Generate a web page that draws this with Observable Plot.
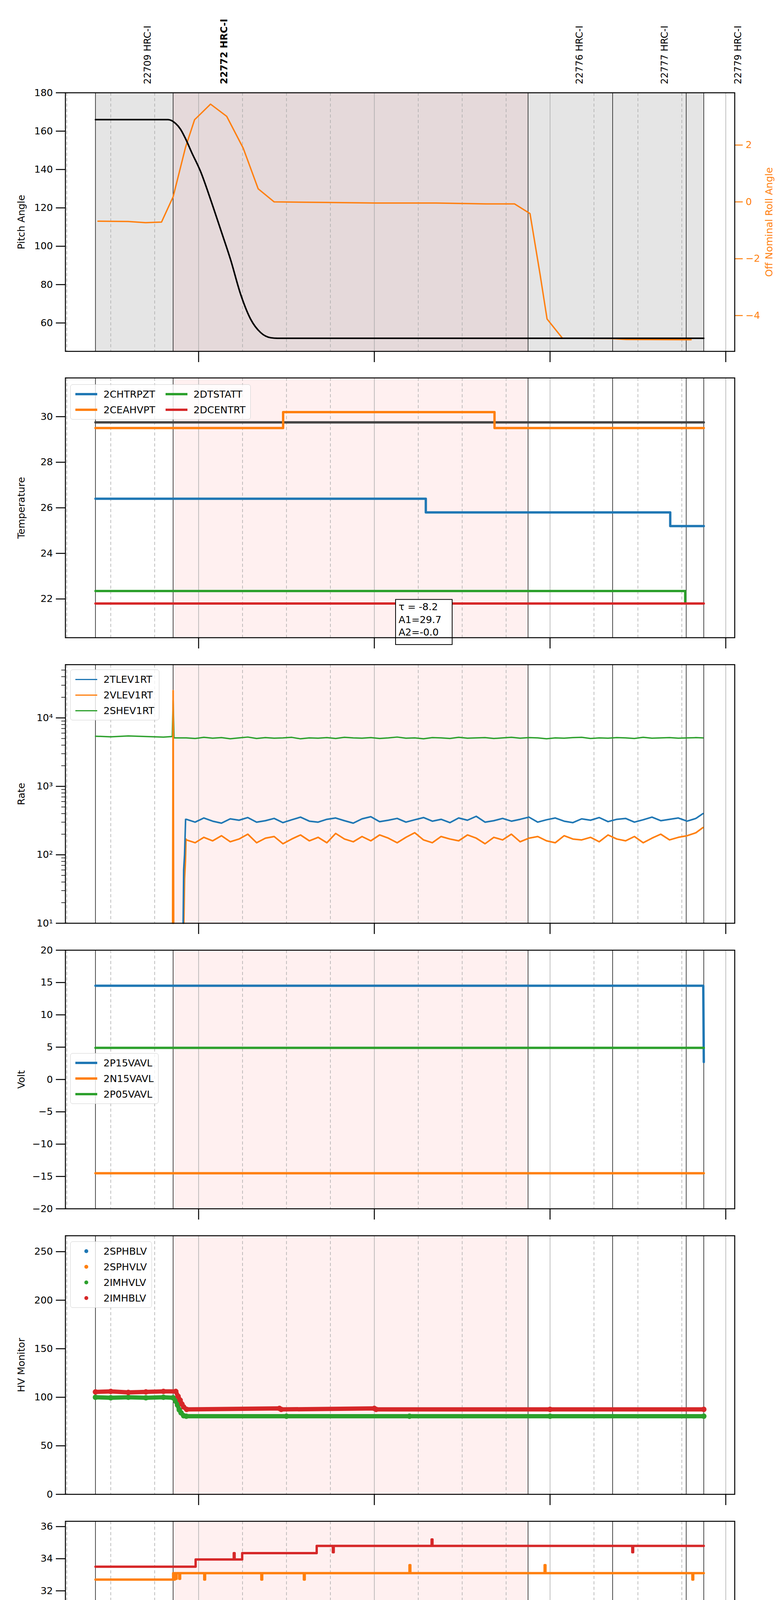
<!DOCTYPE html>
<html>
<head>
<meta charset="utf-8">
<script src="https://cdn.jsdelivr.net/npm/d3@7"></script>
<script src="https://cdn.jsdelivr.net/npm/@observablehq/plot@0.6"></script>
<style>
  body { margin: 0; background: white; font-family: "DejaVu Sans", sans-serif; }
  .panel { position: relative; width: 2000px; }
  .panel svg { display: block; }
  .legend { position: absolute; background: rgba(255,255,255,0.8); border: 1.5px solid #d0d0d0;
            border-radius: 6px; padding: 6px 12px; font-size: 25px; display: grid; column-gap: 26px; row-gap: 4px; }
  .legend .it { display: flex; align-items: center; height: 36px; }
  .legend .sw { display: inline-block; width: 56px; margin-right: 16px; }
  .legend .dt { display: inline-block; width: 10px; height: 10px; border-radius: 5px; margin: 0 39px 0 23px; }
</style>
</head>
<body>
<div id="chart"></div>
<script>
const W = 2000, ML = 167, MR = 119;
const xDomain = [20.242, 24.051];
const C = ["#1f77b4", "#ff7f0e", "#2ca02c", "#d62728"];

// time markers (hours of 2020-03-23)
const blackLines = [20.413, 20.855, 22.875, 23.356, 23.775, 23.875];
const hourLines = [21, 22, 23, 24];
const hourLabels = ["21h", "22h", "23h", "00h"];
const quarterLines = [20.25, 20.5, 20.75, 21.25, 21.5, 21.75, 22.25, 22.5, 22.75, 23.25, 23.5, 23.75];
const quarterLabels = ["15", "30", "45", "15", "30", "45", "15", "30", "45", "15", "30", "45"];
const pinkSpan = [[20.855, 22.875]];
const greySpans = [[20.413, 20.855], [22.875, 23.875]];
const obsidX = [20.69, 21.125, 23.148, 23.632, 24.05];
const obsidText = ["22709 HRC-I", "22772 HRC-I", "22776 HRC-I", "22777 HRC-I", "22779 HRC-I"];
const obsidBold = [false, true, false, false, false];

// panel 1: pitch and roll
const pitch = [[20.413,166],[20.826,166],[20.869,164],[20.897,161],[20.926,156],[20.96,149],[21.011,139],[21.068,124.4],[21.125,108.8],[21.182,93],[21.239,75],[21.296,62],[21.353,55],[21.41,52.3],[21.45,52],[23.875,52]];
const roll = [[20.427,-0.68],[20.598,-0.69],[20.698,-0.73],[20.789,-0.71],[20.855,0.18],[20.926,1.93],[20.977,2.89],[21.068,3.44],[21.16,3.01],[21.254,1.89],[21.339,0.46],[21.43,0],[21.724,-0.02],[22.009,-0.04],[22.35,-0.04],[22.635,-0.07],[22.798,-0.07],[22.886,-0.41],[22.943,-2.54],[22.983,-4.12],[23.071,-4.8],[23.348,-4.81],[23.433,-4.84],[23.803,-4.85]];
const pitchDomain = [45.2, 180];
const rollDomain = [-5.26, 3.84];
const rollTicks = [-4, -2, 0, 2];

// panel 2: temperature
const chtrpzt = [[20.413,26.4],[22.293,25.8],[23.684,25.2],[23.875,25.2]];
const ceahvpt = [[20.413,29.5],[21.481,30.2],[22.684,29.5],[23.875,29.5]];
const fitLine = [[20.413,29.75],[23.875,29.75]];
const dtstatt = [[20.413,22.35],[23.769,21.8],[23.778,21.8]];
const dcentrt = [[20.413,21.8],[23.875,21.8]];
const fitText = ["τ = -8.2", "A1=29.7", "A2=-0.0"];

// panel 3: rates
const rateTimes = [20.93,20.98,21.03,21.08,21.13,21.18,21.23,21.28,21.33,21.38,21.43,21.48,21.53,21.58,21.63,21.68,21.73,21.78,21.83,21.88,21.93,21.98,22.03,22.08,22.13,22.18,22.23,22.28,22.33,22.38,22.43,22.48,22.53,22.58,22.63,22.68,22.73,22.78,22.83,22.88,22.93,22.98,23.03,23.08,23.13,23.18,23.23,23.28,23.33,23.38,23.43,23.48,23.53,23.58,23.63,23.68,23.73,23.78,23.83,23.87];
const tlev1rt = [330,300,345,310,290,335,320,350,300,315,340,295,325,355,310,300,330,345,315,290,335,360,305,320,340,300,325,350,310,330,295,345,320,365,300,315,340,310,330,355,300,325,345,310,295,335,320,350,305,330,340,300,325,355,315,330,345,310,340,400];
const vlev1rt = [165,150,180,160,190,155,170,200,150,175,185,145,170,195,160,180,150,205,170,155,185,160,195,175,150,180,210,165,150,185,170,160,195,175,145,180,165,200,155,175,185,160,150,190,170,165,180,155,195,170,160,185,150,175,200,165,180,190,210,250];
const shev1rt = [5100,5000,5200,5050,5150,4950,5100,5250,5000,5150,5050,5100,5200,4950,5100,5050,5150,5000,5200,5100,5050,5150,5000,5100,5250,5050,5100,4950,5150,5100,5000,5200,5050,5100,5150,5000,5100,5200,5050,5150,5100,4950,5100,5050,5150,5200,5000,5100,5050,5150,5100,5000,5200,5050,5100,5150,5050,5100,5150,5100];
const tlevStart = [[20.912,10],[20.915,60],[20.92,100],[20.926,330]];
const vlevStart = [[20.852,10],[20.855,25000],[20.858,10],[null,null],[20.916,10],[20.92,45],[20.925,80],[20.928,170]];
const shevStart = [[20.413,5400],[20.5,5300],[20.6,5450],[20.7,5350],[20.8,5250],[20.85,5350],[20.855,18000],[20.86,5100]];
const rateTicks = [10, 100, 1000, 10000];
const rateLabels = ["10¹", "10²", "10³", "10⁴"];

// panel 4: volts
const p15vavl = [[20.413,14.5],[23.872,14.5],[23.875,2.7]];
const n15vavl = [[20.413,-14.5],[23.875,-14.5]];
const p05vavl = [[20.413,4.9],[23.875,4.9]];

// panel 5: HV monitor
const sphblv = [];
const sphvlv = [];
const imhvlv = [[20.413,100],[20.5,99.5],[20.6,100],[20.7,99.5],[20.8,100],[20.855,99.5],[20.87,96],[20.88,92],[20.89,87],[20.9,84],[20.915,81],[20.93,80.5],[21.5,80.5],[22.2,80.5],[23,80.5],[23.875,80.5]];
const imhblv = [[20.413,105.5],[20.5,106],[20.6,105],[20.7,105.5],[20.8,106],[20.87,106],[20.883,101],[20.895,97],[20.905,93],[20.915,90],[20.932,87.5],[21.46,88.5],[21.47,87.5],[22.0,88.5],[22.01,87.5],[23,87.5],[23.875,87.5]];

// panel 6: detector temp
const spinatm = [[20.413,23.15],[21.417,22.4],[21.422,23.15],[22.77,22.4],[22.775,23.15],[22.932,22.4],[22.937,23.15],[22.969,22.4],[22.974,23.15],[23.0,22.4],[23.01,23.15],[23.02,22.4],[23.03,23.15],[23.045,22.4],[23.055,23.15],[23.07,22.4],[23.078,23.15],[23.088,22.4],[23.875,22.4]];
const sphvatm = [[20.413,32.7],[20.855,33.1],[20.86,32.7],[20.865,33.1],[20.87,32.75],[20.875,33.1],[20.89,32.75],[20.895,33.1],[21.032,32.7],[21.037,33.1],[21.357,32.7],[21.362,33.1],[21.599,32.7],[21.604,33.1],[22.2,33.6],[22.205,33.1],[22.969,33.6],[22.974,33.1],[23.81,32.7],[23.815,33.1],[23.875,33.1]];
const iminatm = [[20.413,21.0],[21.453,21.7],[21.458,21.0],[21.47,21.7],[21.478,21.0],[21.49,21.7],[21.5,21.0],[21.515,21.7],[21.525,21.0],[21.545,21.7],[21.553,21.0],[21.561,21.7],[23.875,21.7]];
const imhvatm = [[20.413,33.5],[20.983,33.95],[21.2,34.35],[21.205,33.95],[21.248,34.35],[21.672,34.8],[21.764,34.4],[21.769,34.8],[22.326,35.2],[22.331,34.8],[23.468,34.4],[23.473,34.8],[23.875,34.8]];

// panel 7: FEA temp
const fhtrmzt = [[20.413,24.6],[21.932,24.05],[22.863,23.45],[23.254,22.9],[23.259,23.45],[23.277,22.35],[23.282,23.45],[23.875,23.45]];
const fradpyt = [[20.413,20.2],[20.883,20.75],[21.154,20.2],[21.419,19.7],[21.809,19.2],[22.407,18.65],[23.875,18.65]];
const fepratm = [[20.413,26.2],[20.661,27.0],[21.827,26.2],[21.832,27.0],[21.885,26.2],[21.89,27.0],[21.9,26.2],[21.905,27.0],[21.915,26.2],[23.49,25.4],[23.875,25.4]];
const fe00atm = [[20.413,23.6],[20.926,23.95],[20.935,23.6],[20.94,23.95],[20.96,23.6],[20.965,23.95],[21.046,23.0],[21.051,23.95],[21.086,23.6],[21.091,23.95],[21.189,24.3],[21.194,23.95],[21.35,23.6],[21.36,23.95],[21.368,21.7],[21.373,23.95],[21.44,23.6],[21.447,23.95],[21.452,23.6],[21.479,23.0],[21.484,23.6],[21.659,24.0],[21.664,23.6],[21.827,22.3],[21.832,23.6],[22.069,23.3],[22.074,23.6],[22.149,23.3],[22.154,23.6],[22.16,23.3],[22.165,23.6],[22.175,23.3],[22.248,24.3],[22.253,23.3],[22.383,23.0],[22.388,23.3],[22.479,22.3],[22.484,23.3],[22.824,23.0],[22.829,23.3],[22.863,23.0],[22.87,23.3],[22.875,23.0],[23.055,23.3],[23.06,23.0],[23.3,23.6],[23.305,23.0],[23.733,22.7],[23.74,23.0],[23.816,22.3],[23.821,23.0],[23.875,23.0]];

const rows = pairs => pairs.map(([t, v]) => ({t, v}));
const lookup = (keys, labels) => d => labels[keys.indexOf(d)] ?? "";
const minus = d => String(d).replace("-", "−");

function background(first) {
  const m = [];
  if (first) {
    m.push(Plot.rect(greySpans, {x1: d => d[0], x2: d => d[1], fill: "#e5e5e5"}));
    m.push(Plot.rect(pinkSpan, {x1: d => d[0], x2: d => d[1], fill: "#e5d9da"}));
  } else {
    m.push(Plot.rect(pinkSpan, {x1: d => d[0], x2: d => d[1], fill: "#fff0f0"}));
  }
  m.push(Plot.ruleX(quarterLines, {stroke: "#aaa", strokeWidth: 1.5, strokeDasharray: "8,6"}));
  m.push(Plot.ruleX(hourLines, {stroke: "#aaa", strokeWidth: 1.5}));
  m.push(Plot.ruleX(blackLines, {stroke: "#111", strokeWidth: 1.5}));
  return m;
}

function xAxes(bottom) {
  return [
    Plot.axisX({ticks: hourLines, tickSize: 28, strokeWidth: 2.5, fontSize: 26,
      tickPadding: 22, tickFormat: bottom ? lookup(hourLines, hourLabels) : () => "", label: null}),
    Plot.axisX({ticks: quarterLines, tickSize: 0, fontSize: 17, tickPadding: 8,
      tickFormat: bottom ? lookup(quarterLines, quarterLabels) : () => "", label: null}),
  ];
}

function yAxis(label, opts = {}) {
  return Plot.axisY({label, labelAnchor: "center", labelArrow: "none", labelOffset: 122,
    tickSize: 24, tickPadding: 8, strokeWidth: 2.5, fontSize: 25, ...opts});
}

function stepLines(series, width) {
  return series.map(([data, color]) =>
    Plot.line(rows(data), {x: "t", y: "v", curve: "step-after", stroke: color, strokeWidth: width}));
}

function panel({height, mt, mb, y, marks, legend, bottom = false, first = false}) {
  const div = document.createElement("div");
  div.className = "panel";
  const chart = Plot.plot({
    width: W, height, marginLeft: ML, marginRight: MR, marginTop: mt, marginBottom: mb,
    style: {fontFamily: "DejaVu Sans", fontSize: "25px", background: "white", overflow: "visible"},
    x: {domain: xDomain},
    y,
    marks: [...background(first), ...marks, ...xAxes(bottom), Plot.frame({stroke: "#000", strokeWidth: 2.5})]
  });
  div.append(chart);
  if (legend) {
    const lg = document.createElement("div");
    lg.className = "legend";
    lg.style.left = (ML + 13) + "px";
    lg.style.top = (mt + legend.top) + "px";
    lg.style.gridTemplateColumns = `repeat(${legend.cols || 1}, auto)`;
    lg.style.gridAutoFlow = "column";
    lg.style.gridTemplateRows = `repeat(${Math.ceil(legend.items.length / (legend.cols || 1))}, auto)`;
    legend.items.forEach(([name, color]) => {
      const it = document.createElement("div");
      it.className = "it";
      const sw = document.createElement("span");
      if (legend.dots) { sw.className = "dt"; sw.style.background = color; }
      else { sw.className = "sw"; sw.style.height = (legend.lw || 6) + "px"; sw.style.background = color; }
      it.append(sw, document.createTextNode(name));
      lg.append(it);
    });
    div.append(lg);
  }
  document.getElementById("chart").append(div);
  return div;
}

// panel 1
const toPitch = r => pitchDomain[0] + (r - rollDomain[0]) * (pitchDomain[1] - pitchDomain[0]) / (rollDomain[1] - rollDomain[0]);
const obsids = obsidX.map((x, i) => ({x, text: obsidText[i], bold: obsidBold[i]}));
panel({
  height: 934, mt: 237, mb: 35, first: true,
  y: {domain: pitchDomain},
  marks: [
    Plot.line(rows(roll), {x: "t", y: d => toPitch(d.v), stroke: C[1], strokeWidth: 3.5}),
    Plot.line(rows(pitch), {x: "t", y: "v", curve: "monotone-x", stroke: "#000", strokeWidth: 4}),
    yAxis("Pitch Angle", {ticks: [60, 80, 100, 120, 140, 160, 180]}),
    Plot.axisY({anchor: "right", ticks: rollTicks.map(toPitch), tickFormat: d => minus(Math.round((d - pitchDomain[0]) * (rollDomain[1] - rollDomain[0]) / (pitchDomain[1] - pitchDomain[0]) + rollDomain[0])),
      color: C[1], tickSize: 20, tickPadding: 8, strokeWidth: 2.5, fontSize: 25,
      label: "Off Nominal Roll Angle", labelAnchor: "center", labelArrow: "none", labelOffset: 96}),
    Plot.text(obsids.filter(d => !d.bold), {x: "x", text: "text", frameAnchor: "top", dy: -22, rotate: -90, textAnchor: "start", fontSize: 24}),
    Plot.text(obsids.filter(d => d.bold), {x: "x", text: "text", frameAnchor: "top", dy: -22, rotate: -90, textAnchor: "start", fontSize: 24, fontWeight: "bold"})
  ]
});

// panel 2
panel({
  height: 733, mt: 33, mb: 35,
  y: {domain: [20.3, 31.7]},
  marks: [
    ...stepLines([[fitLine, "#444"], [chtrpzt, C[0]], [ceahvpt, C[1]], [dtstatt, C[2]], [dcentrt, C[3]]], 6),
    Plot.rect([{x1: 22.122, x2: 22.444, y1: 19.99, y2: 21.97}], {x1: "x1", x2: "x2", y1: "y1", y2: "y2", fill: "white", stroke: "#000", strokeWidth: 2}),
    Plot.text([fitText.join("\n")], {x: 22.138, y: 21.9, text: d => d, textAnchor: "start", lineAnchor: "top", fontSize: 25, lineHeight: 1.3}),
    yAxis("Temperature", {ticks: [22, 24, 26, 28, 30]})
  ],
  legend: {top: 17, cols: 2, items: [["2CHTRPZT", C[0]], ["2CEAHVPT", C[1]], ["2DTSTATT", C[2]], ["2DCENTRT", C[3]]]}
});

// panel 3
const minorRate = [];
[10, 100, 1000, 10000].forEach(b => [2, 3, 4, 5, 6, 7, 8, 9].forEach(k => { if (b * k < 60000) minorRate.push(b * k); }));
const rateRows = (start, vals) => [...start.map(([t, v]) => ({t, v})), ...rateTimes.map((t, i) => ({t, v: vals[i]}))];
panel({
  height: 731, mt: 34, mb: 35,
  y: {type: "log", domain: [10, 60000]},
  marks: [
    Plot.line(rateRows(shevStart, shev1rt), {x: "t", y: "v", stroke: C[2], strokeWidth: 3.5}),
    Plot.line(rateRows(vlevStart, vlev1rt), {x: "t", y: "v", stroke: C[1], strokeWidth: 4}),
    Plot.line(rateRows(tlevStart, tlev1rt), {x: "t", y: "v", stroke: C[0], strokeWidth: 4}),
    Plot.axisY({ticks: minorRate, tickSize: 10, strokeWidth: 1.5, tickFormat: () => "", label: null}),
    yAxis("Rate", {ticks: rateTicks, tickFormat: lookup(rateTicks, rateLabels)})
  ],
  legend: {top: 13, lw: 3, items: [["2TLEV1RT", C[0]], ["2VLEV1RT", C[1]], ["2SHEV1RT", C[2]]]}
});

// panel 4
panel({
  height: 731, mt: 34, mb: 35,
  y: {domain: [-20, 20]},
  marks: [
    Plot.line(rows(p15vavl), {x: "t", y: "v", stroke: C[0], strokeWidth: 6}),
    Plot.line(rows(n15vavl), {x: "t", y: "v", stroke: C[1], strokeWidth: 6}),
    Plot.line(rows(p05vavl), {x: "t", y: "v", stroke: C[2], strokeWidth: 6}),
    yAxis("Volt", {ticks: [-20, -15, -10, -5, 0, 5, 10, 15, 20], tickFormat: minus})
  ],
  legend: {top: 264, items: [["2P15VAVL", C[0]], ["2N15VAVL", C[1]], ["2P05VAVL", C[2]]]}
});

// panel 5
panel({
  height: 731, mt: 34, mb: 35,
  y: {domain: [0, 266.4]},
  marks: [
    ...[[sphblv, C[0]], [sphvlv, C[1]], [imhvlv, C[2]], [imhblv, C[3]]].flatMap(([d, c]) => [
      Plot.line(rows(d), {x: "t", y: "v", stroke: c, strokeWidth: 11}),
      Plot.dot(rows(d), {x: "t", y: "v", fill: c, r: 7})
    ]),
    yAxis("HV Monitor", {ticks: [0, 50, 100, 150, 200, 250]})
  ],
  legend: {top: 15, dots: true, items: [["2SPHBLV", C[0]], ["2SPHVLV", C[1]], ["2IMHVLV", C[2]], ["2IMHBLV", C[3]]]}
});

// panel 6
panel({
  height: 731, mt: 34, mb: 35,
  y: {domain: [20.23, 36.33]},
  marks: [
    ...stepLines([[spinatm, C[0]], [sphvatm, C[1]], [iminatm, C[2]], [imhvatm, C[3]]], 6),
    yAxis("Detector Temp", {ticks: [22, 24, 26, 28, 30, 32, 34, 36]})
  ],
  legend: {top: 246, items: [["2SPINATM", C[0]], ["2SPHVATM", C[1]], ["2IMINATM", C[2]], ["2IMHVATM", C[3]]]}
});

// panel 7
panel({
  height: 807, mt: 35, mb: 109, bottom: true,
  y: {domain: [17.15, 28.46]},
  marks: [
    ...stepLines([[fhtrmzt, C[0]], [fradpyt, C[1]], [fepratm, C[2]], [fe00atm, C[3]]], 6),
    yAxis("FEA Temp", {ticks: [18, 20, 22, 24, 26, 28]}),
    Plot.text(["2020-03-23 (083)"], {x: 22.25, frameAnchor: "bottom", dy: 86, text: d => d, fontSize: 28})
  ],
  legend: {top: 14, items: [["2FHTRMZT", C[0]], ["2FRADPYT", C[1]], ["2FEPRATM", C[2]], ["2FE00ATM", C[3]]]}
});
</script>
</body>
</html>
